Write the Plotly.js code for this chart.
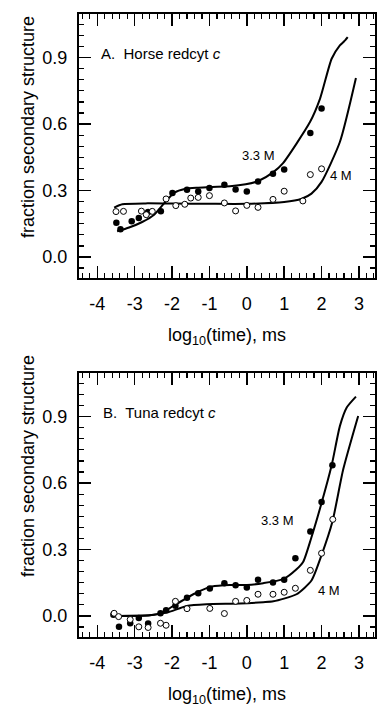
<!DOCTYPE html>
<html>
<head>
<meta charset="utf-8">
<script src="https://cdn.plot.ly/plotly-3.0.1.min.js"></script>
<style>
html,body{margin:0;padding:0;background:#fff;}
#chart{width:380px;height:706px;}
</style>
</head>
<body>
<div id="chart"></div>
<script>
// ---- Panel A: Horse redcyt c ----
const A_t_filled = [-3.49,-3.38,-3.08,-2.89,-2.64,-2.30,-1.99,-1.60,-1.30,-1.00,-0.60,-0.30,0.00,0.30,0.70,1.00,1.70,2.00];
const A_y_filled = [0.155,0.125,0.161,0.176,0.203,0.206,0.289,0.304,0.296,0.311,0.326,0.305,0.296,0.341,0.376,0.395,0.560,0.670];
const A_t_open = [-3.50,-3.30,-2.82,-2.69,-2.53,-2.16,-1.90,-1.66,-1.50,-1.30,-1.00,-0.60,-0.30,0.00,0.30,0.70,1.00,1.50,1.70,2.00];
const A_y_open = [0.205,0.206,0.207,0.191,0.206,0.262,0.232,0.238,0.266,0.269,0.277,0.244,0.208,0.233,0.224,0.260,0.297,0.253,0.372,0.398];
const A_t_fit33 = [-3.47,-3.15,-2.80,-2.48,-2.22,-1.95,-1.64,-1.30,-0.93,-0.45,-0.03,0.31,0.70,0.97,1.69,1.96,2.27,2.49,2.60,2.70];
const A_y_fit33 = [0.116,0.133,0.158,0.191,0.241,0.289,0.308,0.313,0.316,0.319,0.328,0.343,0.382,0.424,0.609,0.715,0.895,0.955,0.973,0.993];
const A_t_fit4 = [-3.55,-3.33,-2.71,-2.00,-1.00,0.00,1.00,1.47,1.73,2.00,2.49,2.92];
const A_y_fit4 = [0.223,0.238,0.242,0.241,0.240,0.240,0.248,0.263,0.286,0.339,0.519,0.808];

// ---- Panel B: Tuna redcyt c ----
const B_t_filled = [-3.57,-3.42,-3.12,-2.89,-2.64,-2.31,-2.16,-1.91,-1.60,-1.30,-0.99,-0.60,-0.30,0.00,0.30,0.70,1.00,1.30,1.70,2.00,2.29];
const B_y_filled = [0.006,-0.049,-0.033,-0.009,-0.034,0.012,0.026,0.046,0.082,0.102,0.124,0.148,0.139,0.129,0.164,0.151,0.163,0.260,0.381,0.515,0.680];
const B_t_open = [-3.55,-3.43,-3.12,-2.89,-2.64,-2.31,-2.16,-1.91,-1.60,-0.99,-0.60,-0.30,0.00,0.30,0.70,1.00,1.30,1.70,2.00,2.30];
const B_y_open = [0.012,-0.003,-0.016,-0.049,-0.052,-0.033,-0.042,0.066,0.033,0.034,0.011,0.066,0.070,0.098,0.098,0.107,0.125,0.206,0.283,0.436];
const B_t_fit33 = [-3.57,-2.59,-2.26,-1.97,-1.34,-0.93,-0.45,0.00,0.44,0.97,1.33,1.51,1.72,2.00,2.27,2.49,2.67,2.92];
const B_y_fit33 = [0.000,0.003,0.015,0.045,0.106,0.133,0.140,0.140,0.148,0.166,0.211,0.245,0.350,0.510,0.680,0.857,0.940,0.990];
const B_t_fit4 = [-3.57,-2.60,-2.14,-1.61,-1.08,-0.18,0.44,0.71,1.33,1.73,2.00,2.29,2.58,2.98];
const B_y_fit4 = [0.000,0.003,0.015,0.045,0.053,0.056,0.062,0.066,0.098,0.160,0.275,0.425,0.662,0.903];

// ---- Tick labels and texts ----
const xTickVals = [-4,-3,-2,-1,0,1,2,3];
const xTickText = ['-4','-3','-2','-1','0','1','2','3'];
const yTickVals = [0.0,0.3,0.6,0.9];
const yTickText = ['0.0','0.3','0.6','0.9'];
const panelTitles = ['A.  Horse redcyt <i>c</i>','B.  Tuna redcyt <i>c</i>'];
const curveLabels = ['3.3 M','4 M'];
const xTitle = 'log<sub>10</sub>(time), ms';
const yTitle = 'fraction secondary structure';

const FONT = 'Arial, "Liberation Sans", Helvetica, sans-serif';

function lineTrace(x, y, xa, ya){
  return {x:x, y:y, xaxis:xa, yaxis:ya, mode:'lines', type:'scatter',
    line:{color:'#000', width:2, shape:'spline', smoothing:0.6}, hoverinfo:'skip', showlegend:false};
}
function filledTrace(x, y, xa, ya){
  return {x:x, y:y, xaxis:xa, yaxis:ya, mode:'markers', type:'scatter',
    marker:{color:'#000', size:6.5, line:{width:0}}, showlegend:false, cliponaxis:false};
}
function openTrace(x, y, xa, ya){
  return {x:x, y:y, xaxis:xa, yaxis:ya, mode:'markers', type:'scatter',
    marker:{color:'#fff', size:6, line:{color:'#000', width:1}}, showlegend:false, cliponaxis:false};
}

const data = [
  lineTrace(A_t_fit33, A_y_fit33, 'x', 'y'),
  lineTrace(A_t_fit4, A_y_fit4, 'x', 'y'),
  filledTrace(A_t_filled, A_y_filled, 'x', 'y'),
  openTrace(A_t_open, A_y_open, 'x', 'y'),
  lineTrace(B_t_fit33, B_y_fit33, 'x2', 'y2'),
  lineTrace(B_t_fit4, B_y_fit4, 'x2', 'y2'),
  filledTrace(B_t_filled, B_y_filled, 'x2', 'y2'),
  openTrace(B_t_open, B_y_open, 'x2', 'y2')
];

function xAxis(anchor){
  return {
    anchor:anchor, range:[-4.49, 3.43], domain:[0,1],
    tickmode:'array', tickvals:xTickVals, ticktext:xTickText,
    ticks:'inside', ticklen:12, tickwidth:1.5, tickcolor:'#000',
    minor:{dtick:0.2, tick0:0, ticks:'inside', ticklen:5, tickwidth:1.2, tickcolor:'#000'},
    showline:true, linecolor:'#000', linewidth:2, mirror:'allticks',
    showgrid:false, zeroline:false,
    tickfont:{family:FONT, size:18, color:'#000'}, ticklabelstandoff:8
  };
}
function yAxis(anchor, dom){
  return {
    anchor:anchor, range:[-0.095, 1.097], domain:dom,
    tickmode:'array', tickvals:yTickVals, ticktext:yTickText,
    ticks:'inside', ticklen:12, tickwidth:1.5, tickcolor:'#000',
    minor:{dtick:0.05, tick0:0, ticks:'inside', ticklen:5, tickwidth:1.2, tickcolor:'#000'},
    showline:true, linecolor:'#000', linewidth:2, mirror:'allticks',
    showgrid:false, zeroline:false,
    tickfont:{family:FONT, size:18, color:'#000'}, ticklabelstandoff:6
  };
}

const annFont = {family:FONT, size:15, color:'#000'};
const lblFont = {family:FONT, size:13, color:'#000'};
const titleFont = {family:FONT, size:18, color:'#000'};

const layout = {
  width:380, height:706,
  margin:{l:79, r:5, t:14, b:69},
  paper_bgcolor:'#fff', plot_bgcolor:'#fff',
  showlegend:false,
  xaxis: xAxis('y'),
  yaxis: yAxis('x', [0.5762, 1]),
  xaxis2: xAxis('y2'),
  yaxis2: yAxis('x2', [0, 0.4238]),
  annotations:[
    {xref:'x', yref:'y', x:-3.955, y:0.919, text:panelTitles[0], showarrow:false, xanchor:'left', yanchor:'middle', font:annFont},
    {xref:'x2', yref:'y2', x:-3.90, y:0.919, text:panelTitles[1], showarrow:false, xanchor:'left', yanchor:'middle', font:annFont},
    {xref:'x', yref:'y', x:0.30, y:0.459, text:curveLabels[0], showarrow:false, font:lblFont},
    {xref:'x', yref:'y', x:2.52, y:0.366, text:curveLabels[1], showarrow:false, font:lblFont},
    {xref:'x2', yref:'y2', x:0.82, y:0.432, text:curveLabels[0], showarrow:false, font:lblFont},
    {xref:'x2', yref:'y2', x:2.20, y:0.115, text:curveLabels[1], showarrow:false, font:lblFont},
    {xref:'paper', yref:'paper', x:-0.172, y:0.8186, text:yTitle, textangle:-90, showarrow:false, xanchor:'center', yanchor:'middle', font:titleFont},
    {xref:'paper', yref:'paper', x:-0.172, y:0.2745, text:yTitle, textangle:-90, showarrow:false, xanchor:'center', yanchor:'middle', font:titleFont},
    {xref:'paper', yref:'paper', x:0.5, y:0.4831, text:xTitle, showarrow:false, xanchor:'center', yanchor:'middle', font:titleFont},
    {xref:'paper', yref:'paper', x:0.5, y:-0.0931, text:xTitle, showarrow:false, xanchor:'center', yanchor:'middle', font:titleFont}
  ]
};

Plotly.newPlot('chart', data, layout, {staticPlot:true, displayModeBar:false});
</script>
</body>
</html>
